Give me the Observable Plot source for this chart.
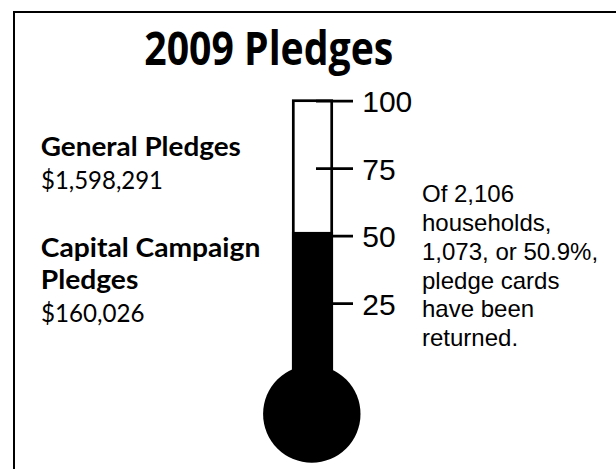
<!DOCTYPE html>
<html><head><meta charset="utf-8">
<script src="https://cdn.jsdelivr.net/npm/d3@7"></script>
<script src="https://cdn.jsdelivr.net/npm/@observablehq/plot@0.6"></script>
<style>
html,body{margin:0;padding:0;background:#fff;}
#wrap{position:relative;width:616px;height:469px;overflow:hidden;background:#fff;}
#wrap svg{position:absolute;left:0;top:0;}
#border{position:absolute;left:13px;top:11px;width:800px;height:800px;border:2.5px solid #000;box-sizing:border-box;pointer-events:none;}
</style></head><body>
<div id="wrap"><div id="border"></div></div>
<script>
// ---- data ----
const chartTitle = "2009 Pledges";
const pledgeHeadings = ["General Pledges", "Capital Campaign\nPledges"];
const pledgeAmounts = ["$1,598,291", "$160,026"];
const scaleDomain = [0, 100];
const scaleTicks = [25, 50, 75, 100];
const percentReturned = 50.9;
const gauge = ["Pledge cards returned"];
const noteLines = ["Of 2,106", "households,", "1,073, or 50.9%,", "pledge cards", "have been", "returned."];

// ---- layout / style ----
const W = 616, H = 469;
const tubeLeft = 293.3, tubeRight = 331.7, tubeTop = 100.7, tubeBottom = 370.7;
const sw = 2.7;
const sans = "'Open Sans', 'Noto Sans', sans-serif";
const lato = "Lato, 'Open Sans', sans-serif";
const arial = "'Liberation Sans', Arial, sans-serif";
const fitWidths = {"2009 Pledges": 249, "General Pledges": 200, "$1,598,291": 122, "Capital Campaign": 219.5, "Pledges": 97.5, "$160,026": 103.5};

const label = (t, o) => Plot.text([t], {text: d => d, frameAnchor: "top-left", textAnchor: "start", lineAnchor: "bottom", fill: "black", fontFamily: lato, ...o});

const chart = Plot.plot({
  width: W, height: H,
  marginLeft: tubeLeft, marginRight: W - tubeRight, marginTop: tubeTop, marginBottom: H - tubeBottom,
  style: {background: "transparent", overflow: "visible"},
  x: {type: "band", domain: gauge, padding: 0, round: false, axis: null},
  y: {domain: scaleDomain},
  marks: [
    Plot.barY(gauge, {x: d => d, y1: scaleDomain[0], y2: scaleDomain[1], fill: "white", stroke: "black", strokeWidth: sw}),
    Plot.ruleY(scaleTicks, {y: d => d, stroke: "black", strokeWidth: sw, insetLeft: 22.7, insetRight: -21.3}),
    Plot.barY(gauge, {x: d => d, y1: scaleDomain[0], y2: percentReturned, fill: "black", stroke: "black", strokeWidth: sw}),
    Plot.dot(gauge, {x: d => d, y: scaleDomain[0], r: 48.7, fill: "black", stroke: "none", dx: -1.2, dy: 42.8}),
    Plot.axisY({anchor: "right", ticks: scaleTicks, tickSize: 0, tickPadding: 30, fontSize: 30, fontFamily: arial, fill: "black", dy: 1.5, label: null, tickFormat: d => String(d)}),
    Plot.text([chartTitle], {text: d => d, frameAnchor: "top-left", textAnchor: "middle", lineAnchor: "bottom", dx: -25, dy: -36.7, fontSize: 46, fontWeight: 700, fontFamily: sans, fill: "black"}),
    label(pledgeHeadings[0], {dx: -253, dy: 54.3, fontSize: 27, fontWeight: 700}),
    label(pledgeAmounts[0], {dx: -252.8, dy: 87.6, fontSize: 25}),
    label(pledgeHeadings[1], {dx: -253, dy: 187.7, fontSize: 27, fontWeight: 700, lineHeight: 1.2}),
    label(pledgeAmounts[1], {dx: -252.8, dy: 220.3, fontSize: 25}),
    Plot.text([noteLines.join("\n")], {text: d => d, frameAnchor: "top-left", textAnchor: "start", lineAnchor: "bottom", lineHeight: 1.2, dx: 128.2, dy: 245, fontSize: 24, fontFamily: arial, fill: "black"})
  ]
});
const wrap = document.getElementById("wrap");
wrap.insertBefore(chart, wrap.firstChild);
d3.select(chart).selectAll("text, tspan").each(function() {
  const t = this.textContent;
  if (fitWidths[t] != null && this.children.length === 0) {
    this.setAttribute("textLength", fitWidths[t]);
    this.setAttribute("lengthAdjust", "spacingAndGlyphs");
  }
});
</script>
</body></html>
